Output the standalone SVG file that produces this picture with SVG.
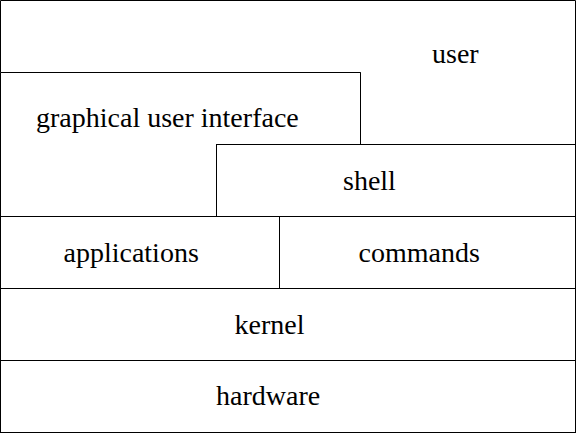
<svg xmlns="http://www.w3.org/2000/svg" width="577" height="433" viewBox="0 0 577 433">
<style>
  .box { fill: #ffffff; stroke: #000000; stroke-width: 1; }
</style>
<rect x="0" y="0" width="577" height="433" fill="#ffffff"/>
<g id="user">
  <polygon class="box" points="0.5,0.5 575.5,0.5 575.5,144.5 360.5,144.5 360.5,72.5 0.5,72.5"/>
  <text font-family="Times New Roman" font-size="28" x="432" y="63">user</text>
</g>
<g id="gui">
  <polygon class="box" points="0.5,72.5 360.5,72.5 360.5,144.5 216.5,144.5 216.5,216.5 0.5,216.5"/>
  <text font-family="Times New Roman" font-size="28" x="36" y="127">graphical user interface</text>
</g>
<g id="shell">
  <rect class="box" x="216.5" y="144.5" width="359" height="72"/>
  <text font-family="Times New Roman" font-size="28" x="343" y="189.5">shell</text>
</g>
<g id="applications">
  <rect class="box" x="0.5" y="216.5" width="279" height="72"/>
  <text font-family="Times New Roman" font-size="28" x="63.5" y="261.5">applications</text>
</g>
<g id="commands">
  <rect class="box" x="279.5" y="216.5" width="296" height="72"/>
  <text font-family="Times New Roman" font-size="28" x="358.5" y="261.5">commands</text>
</g>
<g id="kernel">
  <rect class="box" x="0.5" y="288.5" width="575" height="72"/>
  <text font-family="Times New Roman" font-size="28" x="234.5" y="333.5">kernel</text>
</g>
<g id="hardware">
  <rect class="box" x="0.5" y="360.5" width="575" height="72"/>
  <text font-family="Times New Roman" font-size="28" x="216" y="405">hardware</text>
</g>
<g id="connectors"></g>
</svg>
